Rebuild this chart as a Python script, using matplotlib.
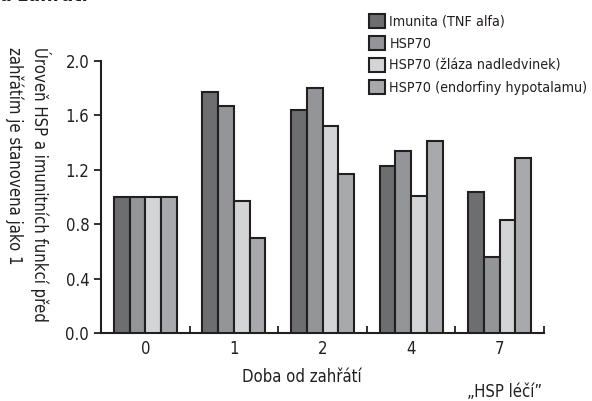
import matplotlib
matplotlib.use('Agg')
import matplotlib.pyplot as plt
import numpy as np

plt.rcParams['font.family'] = ['DejaVu Sans']
plt.rcParams['font.stretch'] = 'condensed'

# data
days = ['0', '1', '2', '4', '7']
series = ['Imunita (TNF alfa)', 'HSP70', 'HSP70 (žláza nadledvinek)',
          'HSP70 (endorfiny hypotalamu)']
imunita = [1.0, 1.77, 1.64, 1.23, 1.04]
hsp70 = [1.0, 1.67, 1.80, 1.34, 0.56]
hsp70_nadledvinky = [1.0, 0.97, 1.52, 1.01, 0.83]
hsp70_endorfiny = [1.0, 0.70, 1.17, 1.41, 1.29]
colors = ['#6d6e70', '#939598', '#d3d4d6', '#a7a9ac']
ink = '#231f20'

fig = plt.figure(figsize=(5.92, 4.01), dpi=100)
ax = fig.add_axes([101/592, 1-333/401, 443/592, 272/401])

x = np.arange(len(days))
w = 0.178
vals = [imunita, hsp70, hsp70_nadledvinky, hsp70_endorfiny]
for i, (v, c, lab) in enumerate(zip(vals, colors, series)):
    ax.bar(x + (i - 1.5) * w, v, w, color=c, edgecolor=ink,
           linewidth=1.5, label=lab, zorder=3)

ax.set_xlim(-0.5, 4.5)
ax.set_ylim(0, 2.0)
ax.set_yticks([0.0, 0.4, 0.8, 1.2, 1.6, 2.0])
ax.set_yticklabels(['0.0', '0.4', '0.8', '1.2', '1.6', '2.0'])
ax.set_xticks(x)
ax.set_xticklabels(days)
ax.set_xticks(np.arange(0.5, 5, 1), minor=True)
ax.tick_params(axis='x', which='major', length=0, pad=5, labelsize=12, colors=ink)
ax.tick_params(axis='x', which='minor', direction='in', length=5, width=1.3, color=ink)
ax.tick_params(axis='y', direction='out', length=5, width=1.3, labelsize=12,
               color=ink, labelcolor=ink)
for s in ['top', 'right']:
    ax.spines[s].set_visible(False)
for s in ['left', 'bottom']:
    ax.spines[s].set_linewidth(1.5)
    ax.spines[s].set_color(ink)

fig.text(28/592, 1-184/401,
         'Úroveň HSP a imunitních funkcí před\nzahřátím je stanovena jako 1',
         rotation=270, fontsize=12, color=ink, ha='center', va='center',
         multialignment='left', linespacing=1.45)
ax.set_xlabel('Doba od zahřátí', fontsize=12, color=ink)
ax.xaxis.set_label_coords((302-101)/443, -(377-333)/272)
ax.xaxis.label.set_va('center')

leg = fig.legend(loc='upper left', bbox_to_anchor=(363/592, 1-8/401),
                 frameon=False, fontsize=10.3, handlelength=1.15, handleheight=1.15,
                 handletextpad=0.3, labelspacing=0.5, borderaxespad=0)
for t in leg.get_texts():
    t.set_color(ink)

fig.text(505/592, 1-392/401, '„HSP léčí”', ha='center', va='center',
         fontsize=12, color=ink)
fig.text(0.0, 1-5/401, 'a zahřátí', ha='left', va='bottom', fontsize=14,
         fontweight='bold', color=ink)

fig.savefig('out.png', dpi=100)
